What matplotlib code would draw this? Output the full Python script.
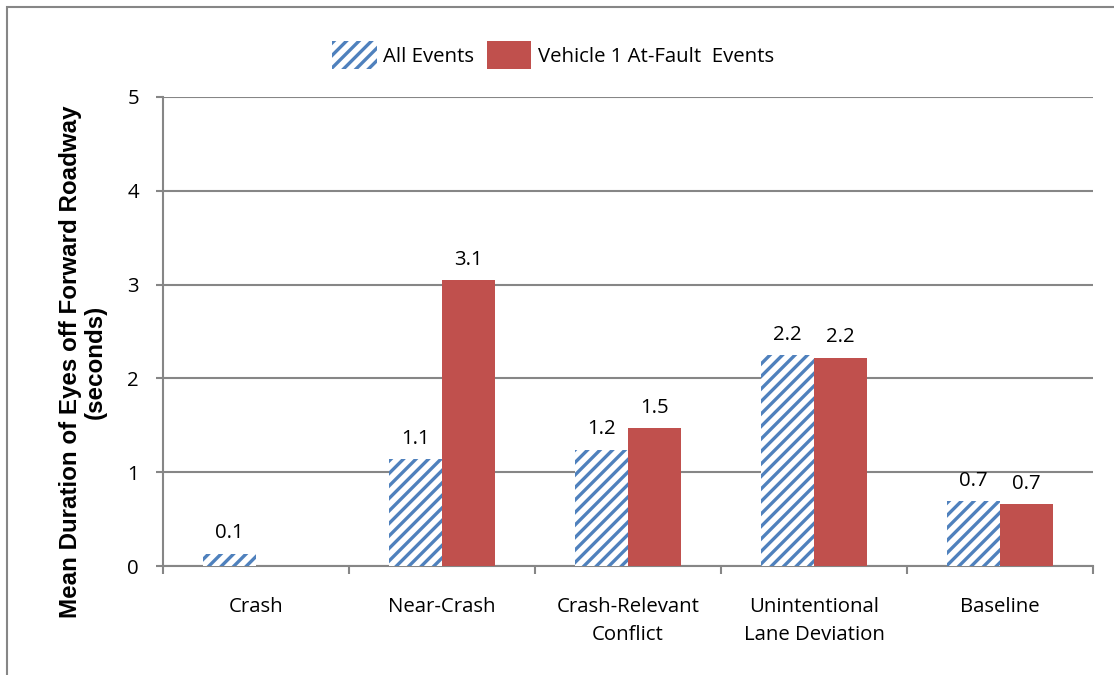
import matplotlib
matplotlib.use("Agg")
import matplotlib.pyplot as plt
import numpy as np
from matplotlib.patches import Rectangle

categories = ["Crash", "Near-Crash", "Crash-Relevant\nConflict", "Unintentional\nLane Deviation", "Baseline"]
all_events = [0.13, 1.14, 1.24, 2.25, 0.69]
at_fault = [np.nan, 3.05, 1.47, 2.22, 0.66]
all_labels = ["0.1", "1.1", "1.2", "2.2", "0.7"]
fault_labels = ["", "3.1", "1.5", "2.2", "0.7"]
series_names = ["All Events", "Vehicle 1 At-Fault  Events"]

BLUE = "#4F81BD"
RED = "#C0504D"
GREY = "#868686"

plt.rcParams["font.family"] = ["Open Sans", "DejaVu Sans"]
plt.rcParams["hatch.linewidth"] = 1.6
plt.rcParams["hatch.color"] = BLUE

DPI = 150
fig = plt.figure(figsize=(1114 / DPI, 675 / DPI), dpi=DPI)
ax = fig.add_axes([163 / 1114, 1 - 566 / 675, 930 / 1114, 469 / 675])

x = np.arange(len(categories))
w = 0.285
b1 = ax.bar(x - w / 2, all_events, w, color="white", edgecolor=BLUE, hatch="////",
            linewidth=0, label=series_names[0], zorder=3)
b2 = ax.bar(x + w / 2, at_fault, w, color=RED, linewidth=0, label=series_names[1], zorder=3)

fs = 9.8
for rect, lab in zip(b1, all_labels):
    ax.text(rect.get_x() + rect.get_width() / 2, rect.get_height() + 0.11, lab,
            ha="center", va="bottom", fontsize=fs, zorder=4)
for rect, lab in zip(b2, fault_labels):
    h = rect.get_height()
    if lab and not np.isnan(h):
        ax.text(rect.get_x() + rect.get_width() / 2, h + 0.11, lab,
                ha="center", va="bottom", fontsize=fs, zorder=4)

ax.set_xlim(-0.5, len(categories) - 0.5)
ax.set_ylim(0, 5)
ax.set_yticks(range(0, 6))
ax.yaxis.grid(True, color=GREY, linewidth=1.0, zorder=0)
ax.set_axisbelow(True)

ax.set_xticks(x)
ax.set_xticklabels(categories, fontsize=fs, linespacing=1.55)
ax.tick_params(axis="x", length=0, pad=15)
ax.set_xticks(np.arange(-0.5, len(categories)), minor=True)
ax.tick_params(axis="x", which="minor", length=4, color=GREY, width=1.0)
ax.tick_params(axis="y", length=3.5, color=GREY, width=1.0, labelsize=fs, pad=8)

for s in ["top", "right"]:
    ax.spines[s].set_visible(False)
for s in ["left", "bottom"]:
    ax.spines[s].set_color(GREY)
    ax.spines[s].set_linewidth(1.0)

ax.set_ylabel("Mean Duration of Eyes off Forward Roadway\n(seconds)",
              fontsize=11.6, fontweight="bold", family=["Liberation Sans", "DejaVu Sans"],
              linespacing=1.1)
ax.yaxis.set_label_coords(-0.06, 0.435)

fig.legend(handles=[b1, b2], labels=series_names, loc="center",
           bbox_to_anchor=(553 / 1114, 1 - 55 / 675), ncol=2, frameon=False,
           fontsize=fs, handlelength=2.2, handleheight=1.8, handletextpad=0.3,
           columnspacing=0.6)

fig.patches.append(Rectangle((7 / 1114, -0.05), 1.1, 1 - 7 / 675 + 0.05,
                             transform=fig.transFigure, fill=False,
                             edgecolor=GREY, linewidth=1.0, zorder=0))

fig.savefig("out.png", dpi=DPI)
